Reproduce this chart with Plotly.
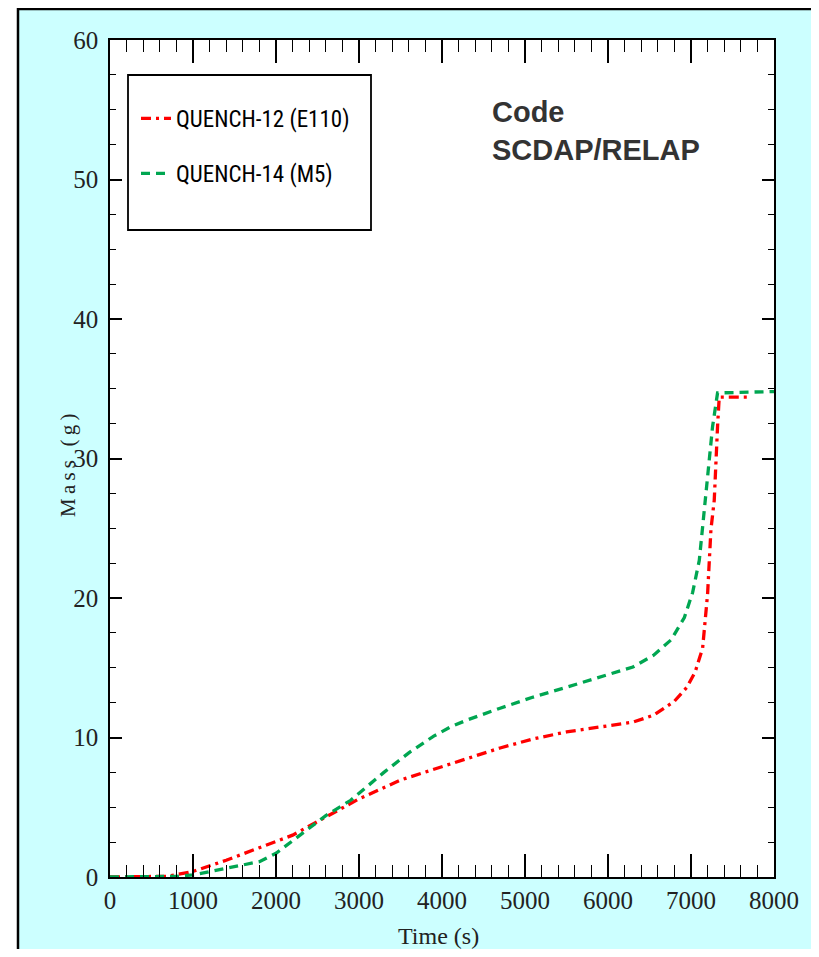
import plotly.graph_objects as go

# QUENCH-12 (E110)
t_q12 = [0, 500, 700, 1000, 1400, 1800, 2200, 2600, 3000, 3500, 3900, 4300, 4700,
         5100, 5500, 5900, 6300, 6550, 6800, 6950, 7050, 7140, 7200, 7240, 7280,
         7320, 7340, 7720]
m_q12 = [0, 0, 0.05, 0.4, 1.2, 2.1, 3.0, 4.3, 5.6, 6.95, 7.7, 8.5, 9.25,
         9.9, 10.4, 10.75, 11.1, 11.6, 12.6, 13.6, 14.7, 16.4, 20.3, 24.9, 27.0,
         32.3, 34.4, 34.4]

# QUENCH-14 (M5)
t_q14 = [0, 600, 800, 1000, 1400, 1800, 2000, 2200, 2600, 2900, 3300, 3600, 3900,
         4100, 4300, 4700, 5100, 5500, 5900, 6300, 6550, 6760, 6920, 7020, 7100,
         7140, 7220, 7260, 7320, 8000]
m_q14 = [0, 0, 0.05, 0.15, 0.6, 1.1, 1.7, 2.6, 4.4, 5.5, 7.5, 8.9, 10.1,
         10.75, 11.25, 12.1, 12.9, 13.6, 14.3, 15.05, 15.9, 17.0, 18.6, 20.4, 22.7,
         25.1, 29.9, 32.3, 34.7, 34.8]

series_names = ["QUENCH-12 (E110)", "QUENCH-14 (M5)"]
x_ticks = [0, 1000, 2000, 3000, 4000, 5000, 6000, 7000, 8000]
y_ticks = [0, 10, 20, 30, 40, 50, 60]

# page is 819x957; the html body adds an 8px margin, so the figure starts at (8, 8)
OFF = 8
W, H = 819 - 2 * OFF, 957 - 2 * OFF
# plot area in page pixels: x 110..774, y 40..877
PL, PR, PT, PB = 110, 774, 40, 877
L, R, T, B = PL - OFF, W + OFF - PR, PT - OFF, H + OFF - PB
pw, ph = PR - PL, PB - PT

def px_x(px):
    return (px - PL) / pw

def px_y(py):
    return (PB - py) / ph

serif = "Liberation Serif, Times New Roman, serif"
narrow = "Liberation Sans Narrow, Arial Narrow, Roboto Condensed, sans-serif"

fig = go.Figure()
fig.add_trace(go.Scatter(x=t_q12, y=m_q12, mode="lines", name=series_names[0],
                         legendgroup="a",
                         line=dict(color="#FF0000", width=3.3, dash="10px,5px,3px,5px")))
fig.add_trace(go.Scatter(x=t_q14, y=m_q14, mode="lines", name=series_names[1],
                         legendgroup="b",
                         line=dict(color="#00A651", width=3.3, dash="9px,6px")))

axis_common = dict(showline=True, linecolor="black", linewidth=1.5, mirror="ticks",
                   ticks="inside", tickcolor="black", showgrid=False, zeroline=False,
                   tickfont=dict(family=serif, size=25, color="#222"))

fig.update_xaxes(range=[0, 8000], tickvals=x_ticks, ticklen=23, tickwidth=1.5,
                 ticklabelstandoff=0,
                 minor=dict(dtick=200, ticks="inside", ticklen=12, tickcolor="black",
                            tickwidth=1.2, showgrid=False),
                 **axis_common)
fig.update_yaxes(range=[0, 60], tickvals=y_ticks, ticklen=12, tickwidth=1.5,
                 ticklabelstandoff=5,
                 minor=dict(dtick=2.5, ticks="inside", ticklen=6, tickcolor="black",
                            tickwidth=1.2, showgrid=False),
                 **axis_common)

shapes = [
    # white strip left of the cyan panel and its black edges
    dict(type="rect", xref="paper", yref="paper", x0=px_x(0), x1=px_x(18), y0=px_y(H + OFF), y1=px_y(0),
         fillcolor="white", line=dict(width=0), layer="above"),
    dict(type="line", xref="paper", yref="paper", x0=px_x(18), x1=px_x(18), y0=px_y(H + OFF), y1=px_y(OFF),
         line=dict(color="black", width=2.5), layer="above"),
    dict(type="line", xref="paper", yref="paper", x0=px_x(18), x1=px_x(W + OFF), y0=px_y(OFF + 1), y1=px_y(OFF + 1),
         line=dict(color="black", width=2.5), layer="above"),
    # legend frame
    dict(type="rect", xref="paper", yref="paper", x0=px_x(128), x1=px_x(371), y0=px_y(230), y1=px_y(75),
         fillcolor="rgba(0,0,0,0)", line=dict(color="black", width=1.8), layer="above"),
]

sp = "\u2009"
mass_title = sp.join(list("Mass")) + sp + " " + sp + sp.join(list("(g)"))

annotations = [
    dict(text="<b>Code<br>SCDAP/RELAP</b>", xref="paper", yref="paper", x=px_x(490), y=px_y(94),
         xanchor="left", yanchor="top", align="left", showarrow=False,
         font=dict(family="Liberation Sans, Arial, sans-serif", size=29, color="#333333")),
    dict(text="Time (s)", xref="paper", yref="paper", x=px_x(438), y=px_y(936),
         xanchor="center", yanchor="middle", showarrow=False,
         font=dict(family=serif, size=24, color="#222")),
    dict(text=mass_title, xref="paper", yref="paper", x=px_x(68), y=px_y(465),
         xanchor="center", yanchor="middle", showarrow=False, textangle=-90,
         font=dict(family=serif, size=21, color="#222")),
]

fig.update_layout(
    width=W, height=H,
    margin=dict(l=L, r=R, t=T, b=B),
    paper_bgcolor="#CCFFFF", plot_bgcolor="white",
    showlegend=True,
    legend=dict(x=px_x(136), y=px_y(97), xanchor="left", yanchor="top",
                bgcolor="rgba(0,0,0,0)", borderwidth=0, tracegroupgap=22,
                font=dict(family=narrow, size=23, color="black")),
    shapes=shapes, annotations=annotations,
)

fig.write_html("out.html")
